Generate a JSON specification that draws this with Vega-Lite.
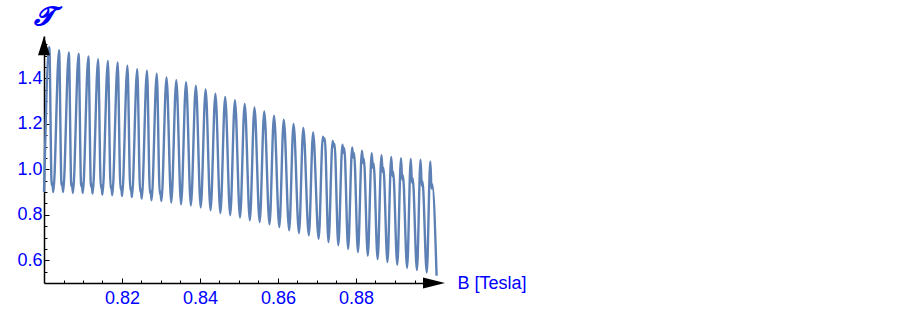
{
  "$schema": "https://vega.github.io/schema/vega-lite/v6.json",
  "width": 390,
  "height": 247,
  "autosize": {"type": "none"},
  "padding": {"left": 44, "top": 36, "right": 469, "bottom": 30},
  "background": "white",
  "config": {"view": {"stroke": null}},
  "encoding": {
    "x": {
      "field": "B", "type": "quantitative",
      "scale": {"domain": [0.8, 0.9], "zero": false, "nice": false},
      "axis": {
        "values": [0.805,0.81,0.815,0.82,0.825,0.83,0.835,0.84,0.845,0.85,0.855,0.86,0.865,0.87,0.875,0.88,0.885,0.89,0.895],
        "labelExpr": "(abs(datum.value*50-round(datum.value*50))<0.01) ? format(datum.value,'.2f') : ''",
        "title": "B [Tesla]",
        "titleX": 413, "titleY": 0.5, "titleAlign": "left", "titleBaseline": "middle",
        "titleColor": "#0000ff", "titleFont": "Liberation Sans", "titleFontSize": 18, "titleFontWeight": "normal",
        "labelColor": "#0000ff", "labelFont": "Liberation Sans", "labelFontSize": 18, "labelPadding": 11,
        "labelFlush": false, "labelOverlap": false,
        "tickSize": {"condition": {"test": "abs(datum.value*50-round(datum.value*50))<0.01", "value": -5}, "value": -3},
        "tickColor": "black", "tickWidth": 1,
        "domainColor": "black", "domainWidth": 1.5, "grid": false
      }
    },
    "y": {
      "field": "t", "type": "quantitative",
      "scale": {"domain": [0.5, 1.5867], "zero": false, "nice": false},
      "axis": {
        "values": [0.55,0.6,0.65,0.7,0.75,0.8,0.85,0.9,0.95,1.0,1.05,1.1,1.15,1.2,1.25,1.3,1.35,1.4,1.45,1.5,1.55],
        "labelExpr": "(abs(datum.value*5-round(datum.value*5))<0.01) ? format(datum.value,'.1f') : ''",
        "title": "𝓣",
        "titleAngle": 0, "titleX": -1, "titleY": -20, "titleAlign": "center", "titleBaseline": "middle",
        "titleColor": "#0000ff", "titleFont": "DejaVu Serif", "titleFontSize": 26, "titleFontWeight": "bold", "titleFontStyle": "italic",
        "labelColor": "#0000ff", "labelFont": "Liberation Sans", "labelFontSize": 18, "labelPadding": 7,
        "labelFlush": false, "labelOverlap": false,
        "tickSize": {"condition": {"test": "abs(datum.value*5-round(datum.value*5))<0.01", "value": -5}, "value": -3},
        "tickColor": "black", "tickWidth": 1,
        "domainColor": "black", "domainWidth": 1.5, "grid": false
      }
    }
  },
  "layer": [
    {
      "data": {"values": [
        {"B":0.8,"t":0.9},
        {"B":0.801359,"t":1.538},{"B":0.801975,"t":0.93},{"B":0.802125,"t":0.942},{"B":0.802385,"t":0.9},
        {"B":0.803864,"t":1.524},{"B":0.804495,"t":0.93},{"B":0.804645,"t":0.942},{"B":0.804905,"t":0.9},
        {"B":0.806369,"t":1.514},{"B":0.807014,"t":0.926},{"B":0.807164,"t":0.938},{"B":0.807424,"t":0.896},
        {"B":0.808874,"t":1.509},{"B":0.809534,"t":0.926},{"B":0.809684,"t":0.938},{"B":0.809944,"t":0.896},
        {"B":0.811379,"t":1.497},{"B":0.812054,"t":0.923},{"B":0.812204,"t":0.935},{"B":0.812464,"t":0.893},
        {"B":0.813885,"t":1.485},{"B":0.814575,"t":0.919},{"B":0.814725,"t":0.931},{"B":0.814985,"t":0.889},
        {"B":0.81639,"t":1.477},{"B":0.817095,"t":0.916},{"B":0.817245,"t":0.928},{"B":0.817505,"t":0.886},
        {"B":0.818895,"t":1.47},{"B":0.819615,"t":0.913},{"B":0.819765,"t":0.925},{"B":0.820025,"t":0.883},
        {"B":0.8214,"t":1.456},{"B":0.822135,"t":0.908},{"B":0.822285,"t":0.92},{"B":0.822545,"t":0.878},
        {"B":0.823905,"t":1.441},{"B":0.824654,"t":0.901},{"B":0.824804,"t":0.913},{"B":0.825064,"t":0.871},
        {"B":0.82641,"t":1.434},{"B":0.827174,"t":0.894},{"B":0.827324,"t":0.906},{"B":0.827584,"t":0.864},
        {"B":0.828915,"t":1.421},{"B":0.829694,"t":0.891},{"B":0.829844,"t":0.903},{"B":0.830104,"t":0.861},
        {"B":0.83142,"t":1.404},{"B":0.832624,"t":0.854},
        {"B":0.833925,"t":1.392},{"B":0.835144,"t":0.846},
        {"B":0.83643,"t":1.383},{"B":0.837664,"t":0.841},
        {"B":0.838936,"t":1.368},{"B":0.840185,"t":0.832},
        {"B":0.841441,"t":1.352},{"B":0.842705,"t":0.82},
        {"B":0.843946,"t":1.333},{"B":0.845224,"t":0.808},
        {"B":0.846451,"t":1.319},{"B":0.847744,"t":0.798},
        {"B":0.848956,"t":1.304},{"B":0.850264,"t":0.788},
        {"B":0.851461,"t":1.288},{"B":0.852784,"t":0.776},
        {"B":0.853966,"t":1.272},{"B":0.855304,"t":0.768},
        {"B":0.856471,"t":1.255},{"B":0.857824,"t":0.758},
        {"B":0.858976,"t":1.236},{"B":0.860344,"t":0.746},
        {"B":0.861481,"t":1.219},{"B":0.862864,"t":0.732},
        {"B":0.863987,"t":1.2},{"B":0.865384,"t":0.72},
        {"B":0.866492,"t":1.182},{"B":0.867904,"t":0.71},
        {"B":0.868997,"t":1.162},{"B":0.870424,"t":0.695},
        {"B":0.871502,"t":1.144},{"B":0.871812,"t":1.124},{"B":0.871992,"t":1.136},{"B":0.872944,"t":0.68},
        {"B":0.874007,"t":1.125},{"B":0.874317,"t":1.1},{"B":0.874497,"t":1.112},{"B":0.875464,"t":0.666},
        {"B":0.876512,"t":1.108},{"B":0.876822,"t":1.073},{"B":0.877002,"t":1.093},{"B":0.877984,"t":0.65},
        {"B":0.879017,"t":1.096},{"B":0.879327,"t":1.051},{"B":0.879507,"t":1.071},{"B":0.880504,"t":0.636},
        {"B":0.881522,"t":1.082},{"B":0.881832,"t":1.027},{"B":0.882012,"t":1.047},{"B":0.883024,"t":0.62},
        {"B":0.884027,"t":1.071},{"B":0.884337,"t":1.006},{"B":0.884517,"t":1.026},{"B":0.885543,"t":0.605},
        {"B":0.886532,"t":1.062},{"B":0.886842,"t":0.987},{"B":0.887022,"t":1.007},{"B":0.888063,"t":0.592},
        {"B":0.889038,"t":1.055},{"B":0.889348,"t":0.97},{"B":0.889528,"t":0.99},{"B":0.890584,"t":0.58},
        {"B":0.891543,"t":1.049},{"B":0.891853,"t":0.954},{"B":0.892033,"t":0.974},{"B":0.893104,"t":0.566},
        {"B":0.894048,"t":1.046},{"B":0.894358,"t":0.941},{"B":0.894538,"t":0.961},{"B":0.895624,"t":0.557},
        {"B":0.896553,"t":1.043},{"B":0.896863,"t":0.928},{"B":0.897043,"t":0.948},{"B":0.898144,"t":0.546},
        {"B":0.899058,"t":1.035},{"B":0.899368,"t":0.915},{"B":0.899548,"t":0.935},{"B":0.900664,"t":0.532}
      ]},
      "mark": {"type": "line", "interpolate": "monotone", "color": "#5e81b5", "strokeWidth": 2.4}
    },
    {
      "data": {"values": [{"B": 0.9, "t": 0.5}]},
      "mark": {"type": "point", "shape": "M-1,-0.5L1,0L-1,0.5Z", "size": 484, "filled": true, "color": "black", "opacity": 1, "strokeWidth": 0}
    },
    {
      "data": {"values": [{"B": 0.8, "t": 1.5436}]},
      "mark": {"type": "point", "shape": "M-0.63,1L0,-1L0.63,1Z", "size": 361, "filled": true, "color": "black", "opacity": 1, "strokeWidth": 0}
    }
  ]
}
